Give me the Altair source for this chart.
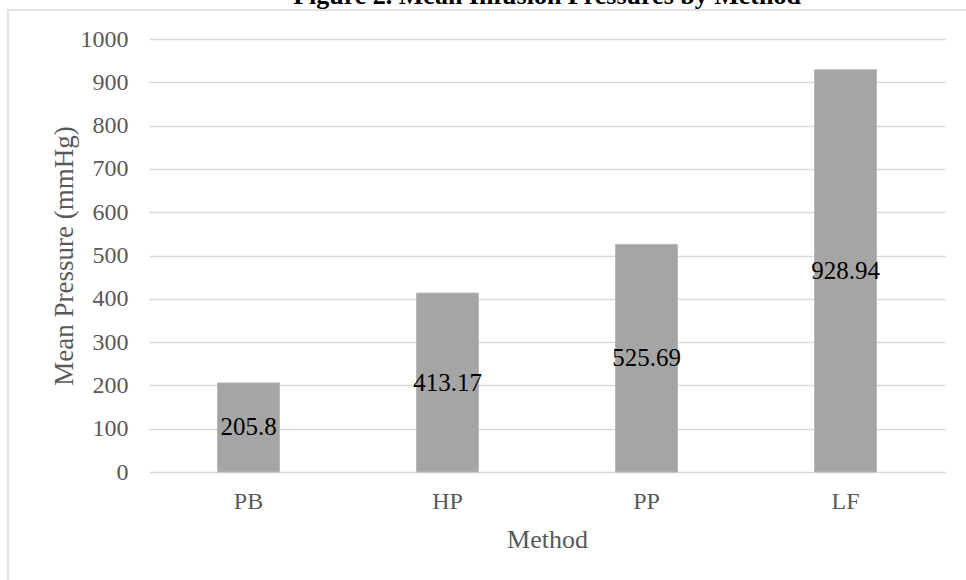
import altair as alt
import pandas as pd

# Mean infusion pressure per method
methods = ["PB", "HP", "PP", "LF"]
pressures = [205.8, 413.17, 525.69, 928.94]
y_ticks = [0, 100, 200, 300, 400, 500, 600, 700, 800, 900, 1000]

title_text = "Figure 2. Mean Infusion Pressures by Method"
FONT = "Liberation Serif"
GREY_TEXT = "#595959"

df = pd.DataFrame({"Method": methods, "Pressure": pressures})

base = alt.Chart(df).encode(
    x=alt.X(
        "Method:N",
        sort=methods,
        scale=alt.Scale(paddingInner=0, paddingOuter=0),
        axis=alt.Axis(
            title="Method",
            labelAngle=0,
            labelFont=FONT,
            labelFontSize=24,
            labelColor=GREY_TEXT,
            labelBaseline="alphabetic",
            labelPadding=36,
            ticks=False,
            tickSize=0,
            domain=False,
            grid=False,
            titleFont=FONT,
            titleFontSize=26,
            titleFontWeight="normal",
            titleColor=GREY_TEXT,
            titleBaseline="alphabetic",
            titleY=75,
        ),
    )
)

bars = base.mark_bar(size=62, color="#a5a5a5", stroke="#b8b8b8", strokeWidth=1).encode(
    y=alt.Y(
        "Pressure:Q",
        scale=alt.Scale(domain=[0, 1000], nice=False),
        axis=alt.Axis(
            title="Mean Pressure (mmHg)",
            values=y_ticks,
            format="d",
            labelFont=FONT,
            labelFontSize=24,
            labelColor=GREY_TEXT,
            labelPadding=21,
            ticks=False,
            tickSize=0,
            domain=False,
            grid=True,
            gridColor="#d9d9d9",
            gridWidth=1.5,
            titleFont=FONT,
            titleFontSize=27,
            titleFontWeight="normal",
            titleColor=GREY_TEXT,
            titleAngle=270,
            titleAlign="center",
            titleBaseline="middle",
            titleX=-85,
            titleY=216.5,
        ),
    )
)

labels = base.transform_calculate(mid="datum.Pressure / 2").mark_text(
    font=FONT, fontSize=25, color="black", baseline="middle", align="center"
).encode(
    y=alt.Y("mid:Q"),
    text=alt.Text("Pressure:Q"),
)

# Heading above the plot
heading = alt.Chart(pd.DataFrame({"t": [title_text]})).mark_text(
    font=FONT, fontSize=26, fontWeight="bold", color="black",
    align="center", baseline="alphabetic",
).encode(text="t:N", x=alt.value(398), y=alt.value(-35))

# Light outer frame of the chart area
frame = alt.Chart(pd.DataFrame({"f": [0]})).mark_rect(
    fill=None, fillOpacity=0, stroke="#d9d9d9", strokeWidth=1.5
).encode(
    x=alt.value(-141), x2=alt.value(900), y=alt.value(-29), y2=alt.value(700)
)

chart = alt.layer(frame, bars, labels, heading).properties(
    width=796,
    height=433,
    autosize=alt.AutoSizeParams(type="none"),
    padding={"left": 149, "top": 39, "right": 21, "bottom": 108},
    background="white",
).configure_view(stroke=None).configure_text(font=FONT)

chart.save("out.html", embed_options={"renderer": "svg", "actions": False})
